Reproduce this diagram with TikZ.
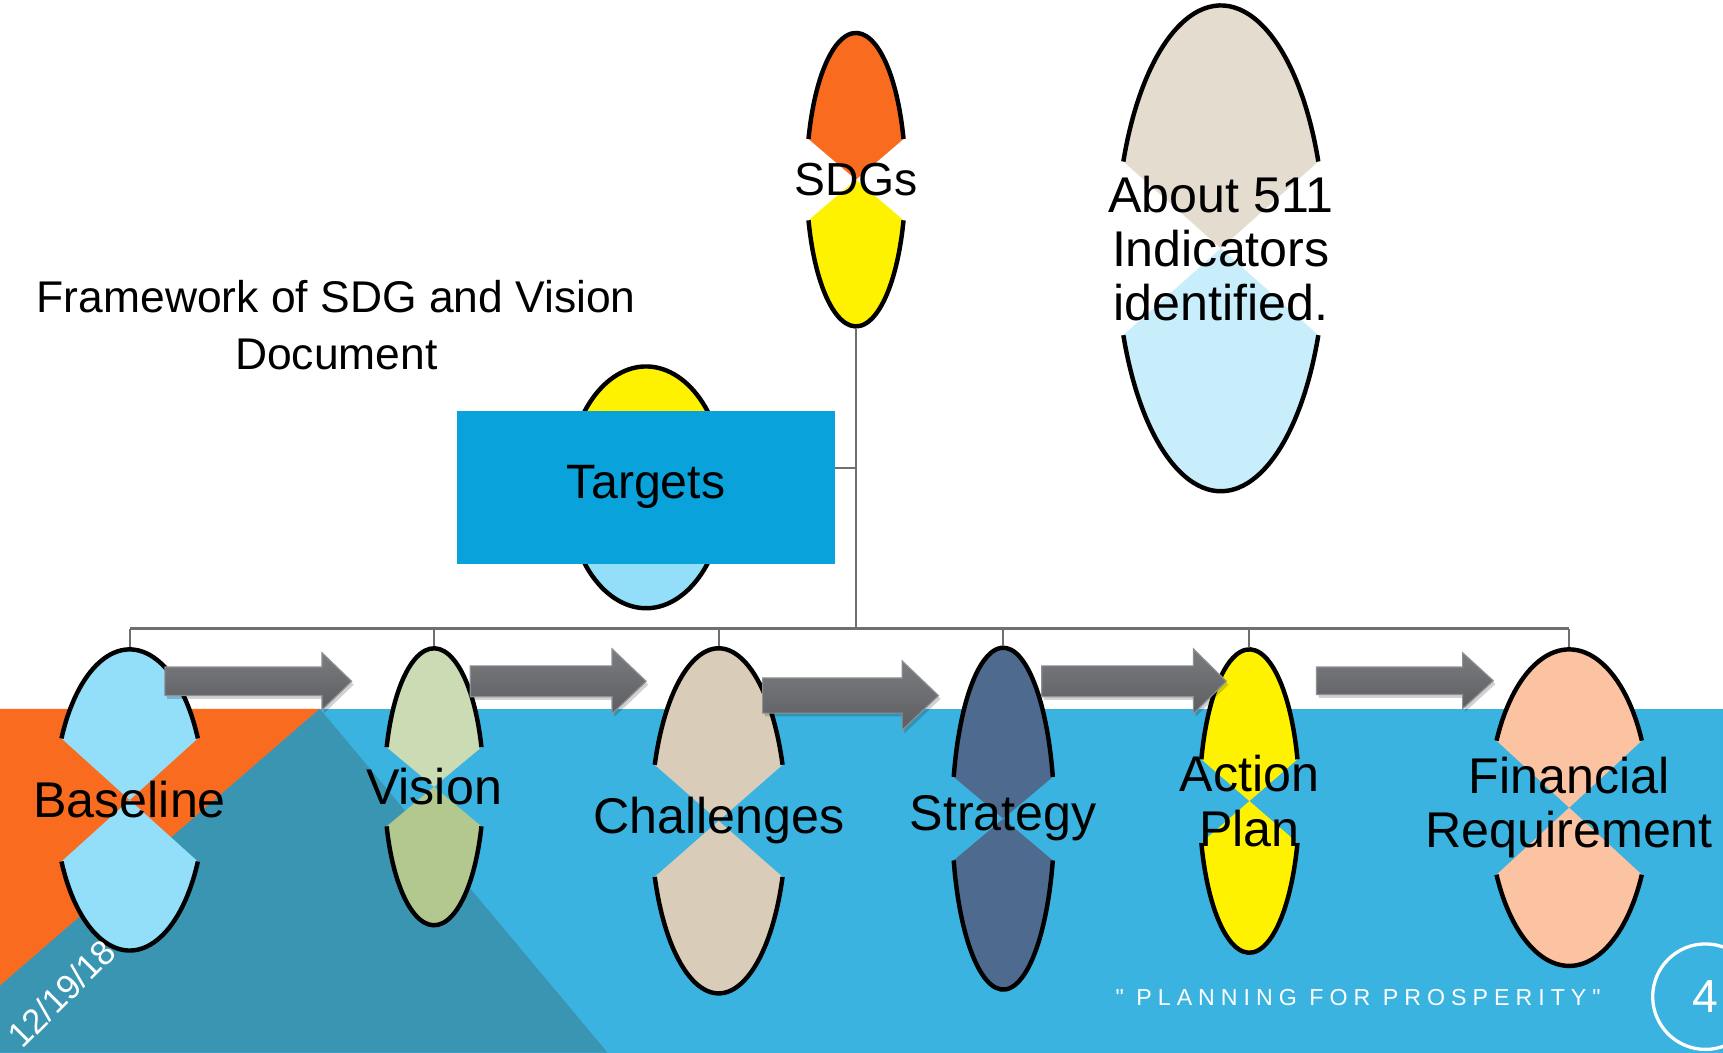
\documentclass[tikz,border=0pt]{standalone}
\usepackage{fontspec}
\setmainfont{Liberation Sans}
\newfontfamily\mottofont{Liberation Sans}[LetterSpace=26]
\usetikzlibrary{calc}

\definecolor{sdgorange}{HTML}{F96B1E}
\definecolor{bandblue}{HTML}{3BB3E0}
\definecolor{bandteal}{HTML}{3A95B2}
\definecolor{ovalsky}{HTML}{93DEF9}
\definecolor{indtop}{HTML}{E5DCD0}
\definecolor{indbot}{HTML}{C8EDFB}
\definecolor{vistop}{HTML}{CBDBB3}
\definecolor{visbot}{HTML}{B2C88E}
\definecolor{chalbeige}{HTML}{D9CCB8}
\definecolor{stratblue}{HTML}{4E6A8E}
\definecolor{finpeach}{HTML}{FCC3A3}
\definecolor{boxblue}{HTML}{0AA2DA}
\definecolor{linkgray}{HTML}{6F6F6F}
\definecolor{arrowtop}{HTML}{7A7C80}
\definecolor{arrowbot}{HTML}{5C5E62}
\definecolor{arrowedge}{HTML}{8E9094}

\newcommand{\splitoval}[8]{%
	\pgfmathsetmacro\ovt{asin(#6/#5)}%
	\pgfmathsetmacro\ovx{#4*cos(\ovt)}%
	\coordinate (#1-c) at (#2,#3);
	\coordinate (#1-top) at (#2,#3+#5);
	\coordinate (#1-bot) at (#2,#3-#5);
	\fill[#7] (#1-c) -- ++(\ovx,#6) arc[start angle=\ovt,end angle=180-\ovt,x radius=#4,y radius=#5] -- cycle;
	\fill[#8] (#1-c) -- ++(-\ovx,-#6) arc[start angle=180+\ovt,end angle=360-\ovt,x radius=#4,y radius=#5] -- cycle;
	\draw[ovalline] (#1-c) ++(\ovx,#6) arc[start angle=\ovt,end angle=180-\ovt,x radius=#4,y radius=#5];
	\draw[ovalline] (#1-c) ++(-\ovx,-#6) arc[start angle=180+\ovt,end angle=360-\ovt,x radius=#4,y radius=#5];
}

\newcommand{\blockarrow}[6]{%
	\fill[arrowshade,shift={(2,-3)}] (#1,#4+#5) -- (#2,#4+#5) -- (#2,#4+#6) -- (#3,#4) -- (#2,#4-#6) -- (#2,#4-#5) -- (#1,#4-#5) -- cycle;
	\shadedraw[arrowbody] (#1,#4+#5) -- (#2,#4+#5) -- (#2,#4+#6) -- (#3,#4) -- (#2,#4-#6) -- (#2,#4-#5) -- (#1,#4-#5) -- cycle;
}

\begin{document}
\begin{tikzpicture}[x=0.02cm,y=0.02cm,
	link/.style={draw=linkgray,line width=1.1pt},
	ovalline/.style={draw=black,line width=2.3pt},
	arrowbody/.style={top color=arrowtop,bottom color=arrowbot,draw=arrowedge,line width=0.6pt},
	arrowshade/.style={fill=black,opacity=0.18},
	ovaltext/.style={font=\fontsize{26}{28}\selectfont,align=center,inner sep=0pt},
	targetbox/.style={fill=boxblue,minimum width=6.88cm,minimum height=2.78cm,inner sep=0pt,font=\fontsize{25}{28}\selectfont}]

	\useasboundingbox (0,0) rectangle (1568,958);
	\fill[white] (0,0) rectangle (1568,958);
	\fill[bandblue] (0,0) rectangle (1568,313);
	\fill[sdgorange] (0,313) -- (291,313) -- (0,61) -- cycle;
	\fill[bandteal] (291,313) -- (553,0) -- (0,0) -- (0,61) -- cycle;

	\splitoval{sdg}{779}{794.5}{45}{133.5}{37}{sdgorange}{yellow}
	\splitoval{ind}{1111}{732}{95}{221}{79}{indtop}{indbot}
	\splitoval{tgt}{588}{514.5}{72}{110}{50}{yellow}{ovalsky}
	\splitoval{base}{118}{230}{68}{137}{56}{ovalsky}{ovalsky}
	\splitoval{vis}{395}{242}{45}{126}{36}{vistop}{visbot}
	\splitoval{chal}{654}{211}{61.5}{157}{51}{chalbeige}{chalbeige}
	\splitoval{strat}{913}{213}{46.5}{155.5}{38}{stratblue}{stratblue}
	\splitoval{act}{1137}{229}{45.5}{138}{38}{yellow}{yellow}
	\splitoval{fin}{1428}{223}{73}{144}{61}{finpeach}{finpeach}

	\coordinate (hub) at (779,386);
	\coordinate (tgt-link) at (760,532.5);
	\draw[link,shorten <=1.15pt] (sdg-bot) -- (hub);
	\draw[link] (base-top |- hub) -- (fin-top |- hub);
	\foreach \n in {base,vis,chal,strat,act,fin}
		\draw[link,shorten >=1.15pt] (\n-top |- hub) -- (\n-top);
	\draw[link] (tgt-link) -- (tgt-link -| hub);

	\node[targetbox] (targets) at (tgt-c) {Targets};

	\blockarrow{150}{293}{320}{338}{13}{26}
	\blockarrow{428}{557}{588}{338}{14}{29.5}
	\blockarrow{694}{821}{854}{325}{16}{31.5}
	\blockarrow{948}{1086}{1116}{338}{14}{29.5}
	\blockarrow{1198}{1331}{1359}{338.5}{12.5}{25.5}

	\node[font=\fontsize{23}{29.6}\selectfont,align=center] (title) at (306,662) {Framework of SDG and Vision\\Document};
	\node[ovaltext,font=\fontsize{24}{28}\selectfont] (sdg) at (sdg-c) {SDGs};
	\node[ovaltext] (ind) at (ind-c) {About 511\\Indicators\\identified.};
	\node[ovaltext] (base) at (base-c) {Baseline};
	\node[ovaltext] (vis) at (vis-c) {Vision};
	\node[ovaltext] (chal) at (chal-c) {Challenges};
	\node[ovaltext] (strat) at (strat-c) {Strategy};
	\node[ovaltext] (act) at (act-c) {Action\\Plan};
	\node[ovaltext] (fin) at (fin-c) {Financial\\Requirement};

	\node[text=white,rotate=45,font=\fontsize{18}{22}\selectfont] (date) at (56,54) {12/19/18};
	\node[text=white,font=\mottofont\fontsize{12}{14}\selectfont] (motto) at (1236,50) {" PLANNING FOR PROSPERITY"};
	\node[draw=white,line width=1.7pt,circle,minimum size=1.92cm,inner sep=0pt,text=white,font=\fontsize{24}{28}\selectfont] (page) at (1552,51) {4};
\end{tikzpicture}
\end{document}
